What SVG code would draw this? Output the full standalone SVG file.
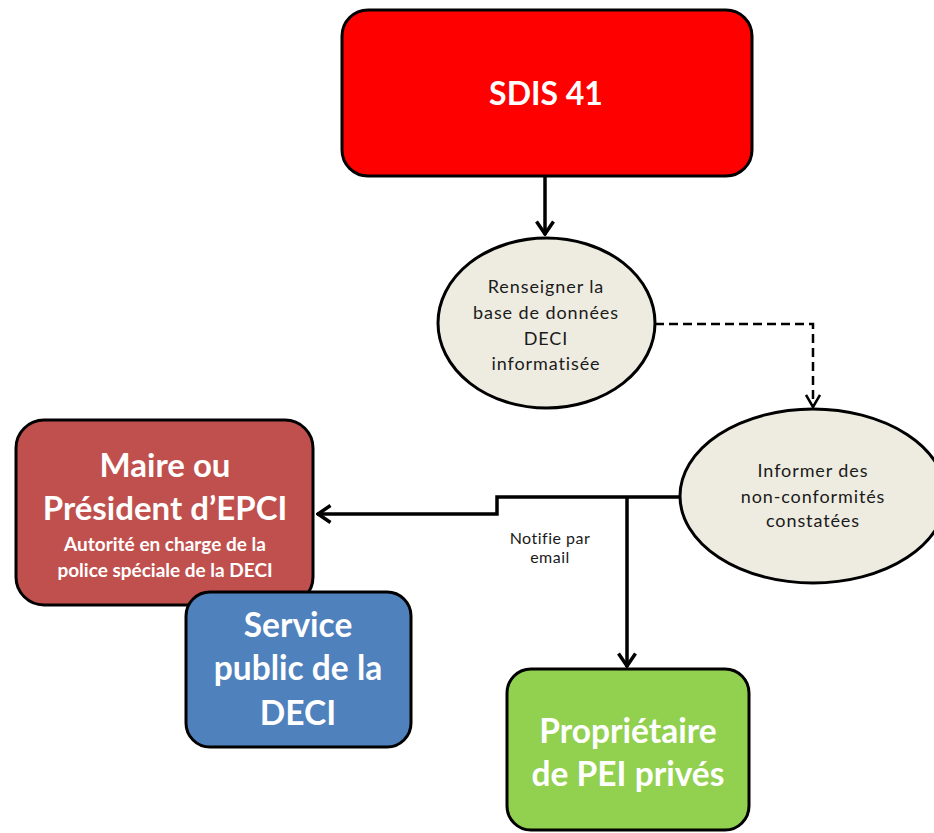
<svg xmlns="http://www.w3.org/2000/svg" width="934" height="833" viewBox="0 0 934 833">
<defs>
<style>
.box{stroke:#000;stroke-width:3}
.ell{fill:#EEECE1;stroke:#000;stroke-width:3}
.w{fill:#fff;font-family:Lato,"Open Sans",sans-serif;font-weight:bold;text-anchor:middle}
.k{fill:#1a1a1a;font-family:Lato,"Open Sans",sans-serif;text-anchor:middle;font-size:18px;letter-spacing:0.9px}
.ln{fill:none;stroke:#000;stroke-width:3.5}
.dash{fill:none;stroke:#000;stroke-width:2.5;stroke-dasharray:9 5}
</style>
<marker id="arr" viewBox="0 0 14 16" refX="13" refY="8" markerWidth="14" markerHeight="16" markerUnits="userSpaceOnUse" orient="auto">
<path d="M1,1 L13,8 L1,15" fill="none" stroke="#000" stroke-width="2.5"/>
</marker>
<marker id="arrb" viewBox="0 0 16 20" refX="15" refY="10" markerWidth="16" markerHeight="20" markerUnits="userSpaceOnUse" orient="auto">
<path d="M1.5,1.5 L14,10 L1.5,18.5" fill="none" stroke="#000" stroke-width="3.5"/>
</marker>
</defs>
<rect width="934" height="833" fill="#fff"/>
<g id="connectors">
<path class="ln" d="M545,176 V235" marker-end="url(#arrb)"/>
<path class="dash" d="M655,324 H813 V407" marker-end="url(#arr)"/>
<path class="ln" d="M681,497 H497 V514 H317" marker-end="url(#arrb)"/>
<path class="ln" d="M627,497 V667" marker-end="url(#arrb)"/>
<text class="k" style="font-size:16px;letter-spacing:0.5px" x="550" y="544">Notifie par</text>
<text class="k" style="font-size:16px;letter-spacing:0.5px" x="550" y="563">email</text>
</g>
<g id="sdis">
<rect class="box" x="342" y="10" width="410" height="166" rx="26" fill="#FF0000"/>
<text class="w" font-size="32" x="546" y="105">SDIS 41</text>
</g>
<g id="renseigner">
<ellipse class="ell" cx="546.5" cy="323" rx="108.5" ry="85"/>
<text class="k" x="546" y="293">Renseigner la</text>
<text class="k" x="546" y="319">base de données</text>
<text class="k" x="546" y="345">DECI</text>
<text class="k" x="546" y="370">informatisée</text>
</g>
<g id="informer">
<ellipse class="ell" cx="813" cy="496" rx="133" ry="87"/>
<text class="k" x="813" y="477">Informer des</text>
<text class="k" x="813" y="503">non-conformités</text>
<text class="k" x="813" y="527">constatées</text>
</g>
<g id="maire">
<rect class="box" x="16" y="420" width="297" height="185" rx="28" fill="#C0504D"/>
<text class="w" font-size="33" x="165" y="477">Maire ou</text>
<text class="w" font-size="33" x="165" y="520">Président d’EPCI</text>
<text class="w" font-size="19" x="165" y="551">Autorité en charge de la</text>
<text class="w" font-size="19" x="165" y="577">police spéciale de la DECI</text>
</g>
<g id="service">
<rect class="box" x="186" y="592" width="225" height="155" rx="24" fill="#4F81BD"/>
<text class="w" font-size="33.5" x="298" y="637">Service</text>
<text class="w" font-size="33.5" x="298" y="680">public de la</text>
<text class="w" font-size="33.5" x="298" y="725">DECI</text>
</g>
<g id="proprietaire">
<rect class="box" x="507" y="669" width="242" height="161" rx="24" fill="#92D050"/>
<text class="w" font-size="33.5" x="628" y="743">Propriétaire</text>
<text class="w" font-size="33.5" x="628" y="786">de PEI privés</text>
</g>
</svg>
